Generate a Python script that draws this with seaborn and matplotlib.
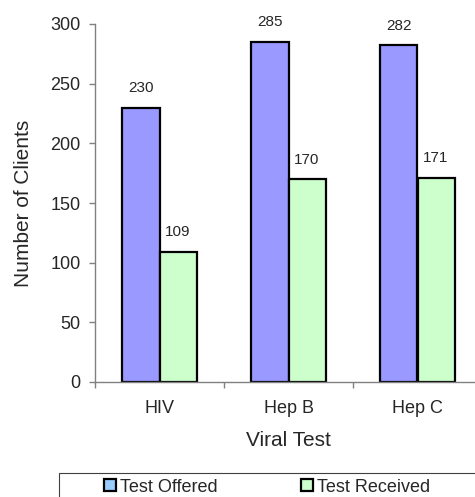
import pandas as pd
import seaborn as sns
import matplotlib.pyplot as plt
import matplotlib.patches as mpatches

# data
tests = ["HIV", "Hep B", "Hep C"]
offered = [230, 285, 282]
received = [109, 170, 171]
series = ["Test Offered", "Test Received"]

df = pd.DataFrame({
    "Viral Test": tests * 2,
    "Clients": offered + received,
    "Series": [series[0]] * 3 + [series[1]] * 3,
})

sns.set_style("white")
plt.rcParams['font.family'] = ['Liberation Sans', 'DejaVu Sans']

fig = plt.figure(figsize=(4.75, 4.97), dpi=100)
ax = fig.add_axes([95 / 475, 115 / 497, 387 / 475, 358 / 497])

sns.barplot(data=df, x="Viral Test", y="Clients", hue="Series",
            palette=["#9999ff", "#ccffcc"], saturation=1, width=0.574, gap=0,
            edgecolor="black", linewidth=1.6, ax=ax, legend=False)

for cont in ax.containers:
    ax.bar_label(cont, padding=9, fontsize=11)

ax.set_xlim(-0.5, 2.5)
ax.set_ylim(0, 300)
ax.set_yticks(range(0, 301, 50))
ax.tick_params(axis="y", labelsize=13, length=4.5, width=1, color="#808080",
               left=True, pad=6)

# category ticks between groups, labels in the middle
ax.set_xticks([-0.5, 0.5, 1.5, 2.5])
ax.set_xticklabels([])
ax.set_xticks([0, 1, 2], minor=True)
ax.set_xticklabels(tests, minor=True)
ax.tick_params(axis="x", which="major", length=4.5, width=1, color="#808080",
               bottom=True)
ax.tick_params(axis="x", which="minor", length=0, labelsize=13, pad=13)

for side in ["top", "right"]:
    ax.spines[side].set_visible(False)
for side in ["left", "bottom"]:
    ax.spines[side].set_color("#808080")
    ax.spines[side].set_linewidth(1)

ax.set_xlabel("Viral Test", fontsize=15, labelpad=10)
ax.set_ylabel("Number of Clients", fontsize=15, labelpad=12)

handles = [
    mpatches.Patch(facecolor="#99ccff", edgecolor="black", linewidth=1.6, label=series[0]),
    mpatches.Patch(facecolor="#ccffcc", edgecolor="black", linewidth=1.6, label=series[1]),
]
fig.legend(handles=handles, loc="center left", ncol=2,
           bbox_to_anchor=(104 / 475, 1 - 487 / 497),
           fontsize=13, handlelength=0.65, handleheight=0.65,
           handletextpad=0.25, columnspacing=4.6, borderaxespad=0,
           borderpad=0, frameon=False)

# legend box runs past the figure edge, as in the reference
fig.patches.append(mpatches.Rectangle((59 / 475, -0.1), 1.0, 0.1 + 24 / 497,
                                      transform=fig.transFigure, fill=False,
                                      edgecolor="#404040", linewidth=0.8))

fig.savefig("out.png", dpi=100)
